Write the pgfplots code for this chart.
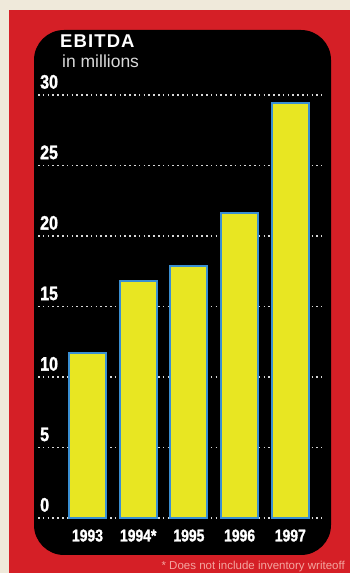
\documentclass[border=0pt]{standalone}
\usepackage{pgfplots}
\pgfplotsset{compat=1.18}
\usepackage{fontspec}
\setmainfont{Liberation Sans}
\newfontfamily\cond{Liberation Sans}[FakeStretch=0.82, FakeBold=1.5]
\definecolor{cream}{HTML}{EFE9DA}
\definecolor{panelred}{HTML}{D51F26}
\definecolor{baryellow}{HTML}{E8E622}
\definecolor{baredge}{HTML}{3A8FD2}
\definecolor{dotgray}{HTML}{D8D8D8}
\definecolor{footpink}{HTML}{F4A6A0}
\begin{document}
\begin{tikzpicture}
\path[use as bounding box] (0pt,0pt) rectangle (350pt,573pt);
\fill[cream] (0pt,0pt) rectangle (350pt,573pt);
\fill[panelred] (9pt,0pt) rectangle (350pt,563pt);
\fill[black, rounded corners=30pt] (34pt,18pt) rectangle (331pt,543pt);
\node[anchor=base west, inner sep=0pt, text=white] at (60pt,525pt) {\fontsize{18.5}{18.5}\selectfont\bfseries\addfontfeature{LetterSpace=6}EBITDA};
\node[anchor=base west, inner sep=0pt, text=white!85!black] at (62pt,505pt) {\fontsize{17.5}{17.5}\selectfont in millions};
\node[anchor=base east, inner sep=0pt, text=footpink] at (345pt,4pt) {\fontsize{11.5}{11.5}\selectfont * Does not include inventory writeoff};
\begin{axis}[
  at={(38pt,55pt)}, anchor=south west,
  scale only axis, width=284pt, height=423pt,
  xmin=-0.976, xmax=4.625, ymin=0, ymax=30,
  axis line style={draw=none},
  major tick length=0pt,
  ytick={0,5,10,15,20,25,30},
  xtick=data,
  xticklabels={1993,1994*,1995,1996,1997},
  ymajorgrids,
  grid style={dotgray, line width=1.8pt, dash pattern=on 1.6pt off 3.2pt},
  /pgf/number format/assume math mode=true,
  yticklabel style={anchor=south west, inner sep=0pt, xshift=2pt, yshift=6pt, text=white, font=\cond\bfseries\fontsize{19.5}{19.5}\selectfont},
  xticklabel style={text=white, font=\cond\bfseries\fontsize{17}{17}\selectfont, yshift=-8pt},
  clip=false,
]
\addplot[ybar, bar width=37pt, fill=baryellow, draw=baredge, line width=2pt] coordinates {
(0,11.7) (1,16.8) (2,17.9) (3,21.6) (4,29.4)
};
\end{axis}
\end{tikzpicture}
\end{document}
